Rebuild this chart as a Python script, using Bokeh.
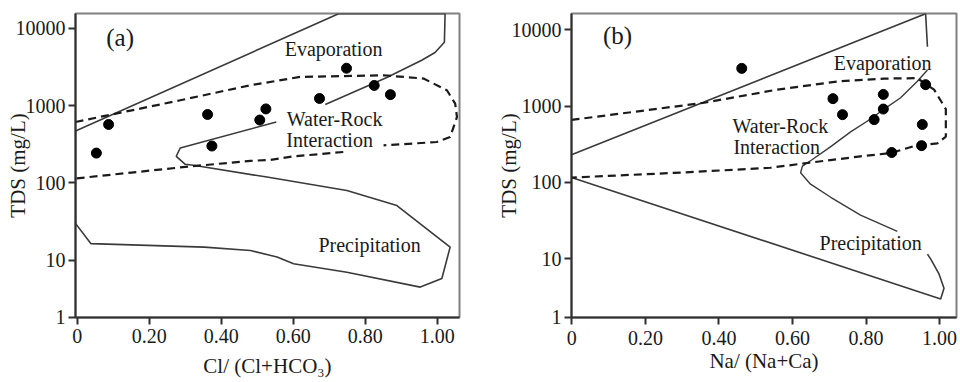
from bokeh.plotting import figure
from bokeh.layouts import row
from bokeh.models import FixedTicker, CustomJSTickFormatter, Label, Range1d
from bokeh.embed import file_html
from bokeh.resources import INLINE

nan = float("nan")

X_TICKS = [0, 0.2, 0.4, 0.6, 0.8, 1.0]
Y_TICKS = [1, 10, 100, 1000, 10000]

# ---------------- Panel (a): Cl/(Cl+HCO3) vs TDS ----------------
A_RATIO = [0.053, 0.087, 0.362, 0.374, 0.507, 0.524, 0.673, 0.748, 0.825, 0.870]
A_TDS = [243, 570, 767, 300, 650, 905, 1235, 3040, 1820, 1385]

# Evaporation boundary (solid)
A_EVAP_X = [-0.005, 0.726, 1.022, 1.020, 0.994, 0.957, 0.860, 0.689]
A_EVAP_Y = [469, 15400, 15400, 6570, 4850, 3850, 2300, 1030]

# Precipitation boundary (solid)
A_PREC_X = [0.553, 0.286, 0.275, 0.300, 0.323, 0.527, 0.749, 0.888, 1.036, 1.013,
            0.953, 0.749, 0.601, 0.555, 0.481, 0.353, 0.038, -0.005, -0.005]
A_PREC_Y = [614, 283, 221, 174, 169, 119, 80, 51, 14.8, 5.8,
            4.5, 7.0, 9.0, 11, 13.4, 14.8, 16.4, 30, 469]

# Water-rock interaction boundary (dashed)
A_WRI_X = [-0.005, 0.175, 0.286, 0.481, 0.619, 0.851, 0.962, 1.027, 1.050, 1.055,
           1.036, 0.999, 0.851, nan, 0.739, 0.600, 0.536, 0.481, 0.300, 0.150, -0.005]
A_WRI_Y = [614, 914, 1170, 1833, 2345, 2465, 2235, 1578, 1060, 712,
           393, 338, 306, nan, 251, 220, 198, 193, 161, 136, 114]

# ---------------- Panel (b): Na/(Na+Ca) vs TDS ----------------
B_RATIO = [0.462, 0.710, 0.736, 0.822, 0.847, 0.847, 0.870, 0.962, 0.953, 0.951]
B_TDS = [3130, 1256, 774, 667, 1426, 917, 247, 1914, 575, 304]

B_EVAP_X = [-0.001, 0.962, 0.967]
B_EVAP_Y = [231, 16300, 6000]

B_PREC_X = [-0.001, 1.003, 1.012, 0.998, 0.976, 0.967]
B_PREC_Y = [116, 2.98, 4.1, 6.4, 9.9, 11.5]

B_MID_X = [0.885, 0.785, 0.704, 0.649, 0.622, 0.627, 0.654, 0.704, 0.758, 0.8125,
           0.849, 0.894, 0.939, 0.967]
B_MID_Y = [22.9, 37.4, 64, 95, 134, 164, 200, 295, 460, 680,
           917, 1290, 2110, 2980]

B_WRI_X = [-0.001, 0.18, 0.36, 0.559, 0.722, 0.85, 0.939, 0.985, 1.017, 1.017,
           0.994, 0.975, 0.94, 0.867, 0.785, 0.64, 0.54, 0.3, -0.001]
B_WRI_Y = [660, 857, 1110, 1650, 2110, 2300, 2330, 1650, 917, 400,
           326, 318, 309, 243, 220, 180, 156, 135, 116]

FONT = "Liberation Serif"
SOLID = "#3a3a3a"
DASH = "#1a1a1a"

X_FMT = CustomJSTickFormatter(code="return tick === 0 ? '0' : tick.toFixed(2);")
Y_FMT = CustomJSTickFormatter(code="return tick < 5 ? '1' : Math.round(tick).toString();")


def make_panel(xr, yr, borders, xlabel, ylab_standoff, xlab_standoff, xlab_label_standoff):
    left, right, top, bottom = borders
    p = figure(width=480, height=382, output_backend="svg", toolbar_location=None,
               x_range=Range1d(*xr), y_range=Range1d(*yr), y_axis_type="log",
               min_border_left=left, min_border_right=right,
               min_border_top=top, min_border_bottom=bottom)
    p.grid.visible = False
    p.outline_line_color = "#808080"
    p.outline_line_width = 2
    p.background_fill_color = "white"
    p.border_fill_color = "white"

    p.xaxis.ticker = FixedTicker(ticks=X_TICKS)
    p.xaxis.formatter = X_FMT
    ticks = [yr[0] * 1.01] + Y_TICKS[1:]
    p.yaxis.ticker = FixedTicker(ticks=ticks, minor_ticks=[])
    p.yaxis.formatter = Y_FMT

    for ax in (p.xaxis[0], p.yaxis[0]):
        ax.axis_line_color = "#303030"
        ax.axis_line_width = 2
        ax.major_tick_line_color = "#303030"
        ax.major_tick_line_width = 2
        ax.major_tick_out = 7
        ax.major_tick_in = 0
        ax.minor_tick_line_color = None
        ax.major_label_text_font = FONT
        ax.major_label_text_font_size = "20px"
        ax.major_label_text_color = "#1a1a1a"
        ax.axis_label_text_font = FONT
        ax.axis_label_text_font_size = "21px"
        ax.axis_label_text_font_style = "normal"
        ax.axis_label_text_color = "#1a1a1a"
    p.xaxis.major_label_standoff = xlab_label_standoff
    p.yaxis.major_label_standoff = 3
    p.xaxis.axis_label = xlabel
    p.yaxis.axis_label = "TDS (mg/L)"
    p.yaxis.axis_label_standoff = ylab_standoff
    p.xaxis.axis_label_standoff = xlab_standoff
    return p


def add_label(p, x, y, text, size="20px"):
    p.add_layout(Label(x=x, y=y, text=text, text_font=FONT, text_font_size=size,
                       text_align="center", text_baseline="middle", text_color="#1a1a1a"))


# Panel (a)
pa = make_panel((-0.005, 1.062), (1.82, 15500), (75, 21, 13, 65),
                "Cl/ (Cl+HCO\u2083)", -17, 8, 4)
pa.line(A_EVAP_X, A_EVAP_Y, line_color=SOLID, line_width=1.6)
pa.line(A_PREC_X, A_PREC_Y, line_color=SOLID, line_width=1.6)
pa.line(A_WRI_X, A_WRI_Y, line_color=DASH, line_width=2.2, line_dash="8 5")
pa.scatter(A_RATIO, A_TDS, size=10, color="black")
add_label(pa, 0.119, 7700, "(a)", "25px")
add_label(pa, 0.712, 5460, "Evaporation")
add_label(pa, 0.715, 680, "Water-Rock")
add_label(pa, 0.701, 363, "Interaction")
add_label(pa, 0.812, 15.6, "Precipitation")

# Panel (b)
pb = make_panel((-0.001, 1.046), (1.70, 16400), (91, 4, 12, 59),
                "Na/ (Na+Ca)", -12, 1, 6)
pb.line(B_EVAP_X, B_EVAP_Y, line_color=SOLID, line_width=1.6)
pb.line(B_PREC_X, B_PREC_Y, line_color=SOLID, line_width=1.6)
pb.line(B_MID_X, B_MID_Y, line_color=SOLID, line_width=1.4)
pb.line(B_WRI_X, B_WRI_Y, line_color=DASH, line_width=2.2, line_dash="8 5")
pb.scatter(B_RATIO, B_TDS, size=10, color="black")
add_label(pb, 0.124, 8380, "(b)", "25px")
add_label(pb, 0.845, 3630, "Evaporation")
add_label(pb, 0.567, 550, "Water-Rock")
add_label(pb, 0.557, 295, "Interaction")
add_label(pb, 0.8125, 16.2, "Precipitation")

layout = row(pa, pb)
open("out.html", "w").write(file_html(layout, INLINE))
